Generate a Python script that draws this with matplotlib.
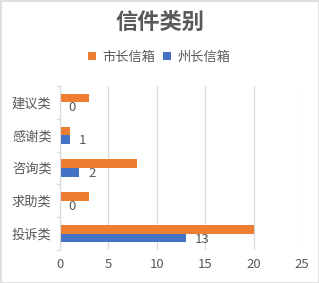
import matplotlib
matplotlib.use("Agg")
import matplotlib.pyplot as plt
import numpy as np

plt.rcParams['font.family'] = ['Noto Sans CJK SC', 'DejaVu Sans']

categories = ['投诉类', '求助类', '咨询类', '感谢类', '建议类']
city = [20, 3, 8, 1, 3]       # 市长信箱
state = [13, 0, 2, 1, 0]      # 州长信箱
xticks = [0, 5, 10, 15, 20, 25]

orange = '#ED7D31'
blue = '#4472C4'
txt = '#595959'

fig = plt.figure(figsize=(3.19, 2.83), dpi=100)
ax = fig.add_axes([60/319, 1 - 250/283, (302-60)/319, (250-86)/283])

y = np.arange(len(categories))
h = 0.26
ax.barh(y + h/2, city, height=h, color=orange, label='市长信箱', zorder=3)
ax.barh(y - h/2, state, height=h, color=blue, label='州长信箱', zorder=3)
for yi, v in zip(y, state):
    ax.text(v + 0.9, yi - h/2 - 0.04, str(v), va='center', ha='left', fontsize=9.5, color=txt)

ax.set_xlim(0, 25)
ax.set_ylim(-0.5, len(categories) - 0.5)
ax.set_xticks(xticks)
ax.set_xticklabels([str(t) for t in xticks], color=txt, fontsize=9.5)
ax.set_yticks(y)
ax.set_yticklabels(categories, color=txt, fontsize=9.5)
ax.tick_params(axis='x', length=0, pad=6)
ax.tick_params(axis='y', length=0, pad=6)
ax.grid(axis='x', color='#D9D9D9', linewidth=0.9, zorder=0)
for s in ['top', 'right', 'bottom']:
    ax.spines[s].set_visible(False)
ax.spines['left'].set_color('#D9D9D9')
ax.spines['left'].set_zorder(4)
for b in np.arange(-0.5, len(categories), 1.0):
    ax.plot([-0.35, 0], [b, b], color='#D9D9D9', linewidth=0.9, clip_on=False, zorder=4)

fig.text(0.5, 1 - 22/283, '信件类别', ha='center', va='center', fontsize=16, fontweight='bold', color=txt)
fig.legend(loc='center', bbox_to_anchor=(0.5, 1 - 57/283),
           ncol=2, frameon=False, fontsize=9.5, handlelength=0.6, handleheight=0.6,
           handletextpad=0.5, columnspacing=0.6, labelcolor=txt)

fig.patches.append(plt.Rectangle((0.5/319, 0.5/283), 1 - 1/319, 1 - 1/283, transform=fig.transFigure,
                                 fill=False, edgecolor='#D9D9D9', linewidth=1.2))
fig.savefig('out.png', dpi=100)
